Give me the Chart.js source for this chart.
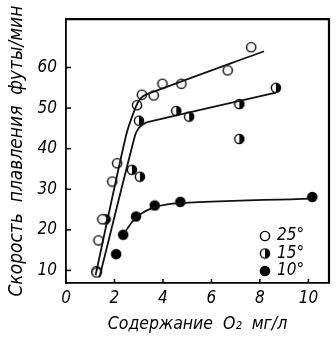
<!DOCTYPE html>
<html>
<head>
<meta charset="utf-8">
<script src="https://cdn.jsdelivr.net/npm/chart.js@4"></script>
<style>
  html, body { margin: 0; padding: 0; background: #fff; }
  #wrap { width: 336px; height: 339px; }
</style>
</head>
<body>
<div id="wrap"><canvas id="myChart" width="336" height="339"></canvas></div>
<script>
// measured points, 25 degrees (open circles)
const x25 = [1.26, 1.34, 1.50, 1.91, 2.11, 2.93, 3.13, 3.62, 3.98, 4.76, 6.67, 7.64];
const y25 = [9.5, 17.4, 22.6, 31.9, 36.4, 50.7, 53.3, 53.1, 56.0, 56.0, 59.3, 65.0];
// 15 degrees (half filled)
const x15 = [1.26, 1.63, 2.72, 3.05, 3.01, 4.55, 5.08, 7.15, 7.15, 8.66];
const y15 = [9.8, 22.6, 34.8, 33.1, 46.9, 49.3, 47.9, 51.0, 42.4, 55.0];
// 10 degrees (filled)
const x10 = [2.07, 2.36, 2.89, 3.66, 4.72, 10.16];
const y10 = [14.0, 18.8, 23.3, 26.0, 26.9, 28.1];

// fitted curves drawn through the points
const fit25x = [1.22, 2.48, 2.88, 3.08, 3.3, 8.17];
const fit25y = [8.8, 43.3, 50.3, 52.4, 53.3, 64.0];
const fit15x = [1.38, 2.85, 3.02, 3.2, 3.4, 8.66];
const fit15y = [8.3, 43.3, 45.2, 46.1, 46.6, 53.8];
const fit10x = [2.36, 2.89, 3.66, 4.72, 10.16];
const fit10y = [18.8, 23.0, 25.6, 26.6, 27.7];

const xTicks = [0, 2, 4, 6, 8, 10];
const yTicks = [10, 20, 30, 40, 50, 60];
const legendLabels = ['25°', '15°', '10°'];

const FONT = "'Liberation Sans Narrow', 'DejaVu Sans Condensed', sans-serif";

function zip(xs, ys) { return xs.map((x, i) => ({x: x, y: ys[i]})); }

// marker images: 0 = open, 1 = half filled, 2 = filled
function makeMarker(kind) {
    const c = document.createElement('canvas');
    c.width = 12; c.height = 12;
    const g = c.getContext('2d');
    const r = 4.6;
    g.beginPath(); g.arc(6, 6, r, 0, Math.PI * 2);
    g.fillStyle = kind === 2 ? '#000' : '#fff';
    g.fill();
    if (kind === 1) {
        g.beginPath(); g.arc(6, 6, r, -Math.PI / 2, Math.PI / 2); g.closePath();
        g.fillStyle = '#000'; g.fill();
    }
    g.lineWidth = 1.4; g.strokeStyle = '#000';
    g.beginPath(); g.arc(6, 6, r, 0, Math.PI * 2); g.stroke();
    return c;
}
const markers = [makeMarker(0), makeMarker(1), makeMarker(2)];

function pointSet(data, m) {
    return { type: 'scatter', data: data, pointStyle: markers[m], pointRadius: 6, showLine: false, borderColor: '#000' };
}
function lineSet(data, tension) {
    return { type: 'line', data: data, borderColor: '#111', borderWidth: 1.8, pointRadius: 0, tension: tension, fill: false };
}

// inward ticks, top/right frame and the small legend
const extras = {
    id: 'extras',
    afterDatasetsDraw(chart) {
        const ctx = chart.ctx, a = chart.chartArea;
        const sx = chart.scales.x, sy = chart.scales.y;
        ctx.save();
        ctx.strokeStyle = '#000';
        ctx.lineWidth = 1.5;
        yTicks.forEach(v => {
            const p = sy.getPixelForValue(v);
            ctx.beginPath(); ctx.moveTo(a.left, p); ctx.lineTo(a.left + 5, p); ctx.stroke();
        });
        xTicks.forEach(v => {
            const p = sx.getPixelForValue(v);
            ctx.beginPath(); ctx.moveTo(p, a.bottom); ctx.lineTo(p, a.bottom - 4); ctx.stroke();
        });
        ctx.lineWidth = 2.2;
        ctx.beginPath();
        ctx.moveTo(a.left, a.top); ctx.lineTo(a.right, a.top); ctx.lineTo(a.right, a.bottom);
        ctx.stroke();
        // legend
        ctx.font = 'italic 17px ' + FONT;
        ctx.fillStyle = '#000';
        ctx.textBaseline = 'middle';
        legendLabels.forEach((t, i) => {
            const y = 236 + i * 17.5;
            ctx.drawImage(markers[i], 259, y - 6);
            ctx.fillText(t, 277, y);
        });
        ctx.restore();
    }
};

const myChart = new Chart(document.getElementById('myChart'), {
    data: {
        datasets: [
            lineSet(zip(fit25x, fit25y), 0.25),
            lineSet(zip(fit15x, fit15y), 0.25),
            lineSet(zip(fit10x, fit10y), 0.4),
            pointSet(zip(x25, y25), 0),
            pointSet(zip(x15, y15), 1),
            pointSet(zip(x10, y10), 2)
        ]
    },
    options: {
        responsive: false,
        animation: false,
        layout: { padding: { left: 2, right: 3, top: 10, bottom: 0 } },
        plugins: { legend: { display: false }, tooltip: { enabled: false } },
        scales: {
            x: {
                type: 'linear', min: 0, max: 10.85,
                afterBuildTicks: s => { s.ticks = xTicks.map(v => ({value: v})); },
                afterFit: s => { s.height = 56; },
                grid: { display: false, drawTicks: false },
                border: { color: '#000', width: 1.8 },
                ticks: { color: '#000', padding: 5, font: { family: FONT, size: 17, style: 'italic' } },
                title: { display: true, text: 'Содержание  O₂  мг/л', color: '#000', padding: { top: 1 },
                         font: { family: FONT, size: 17.5, style: 'italic' } }
            },
            y: {
                type: 'linear', min: 6.9, max: 71.9,
                afterBuildTicks: s => { s.ticks = yTicks.map(v => ({value: v})); },
                afterFit: s => { s.width = 64; },
                grid: { display: false, drawTicks: false },
                border: { color: '#000', width: 1.8 },
                ticks: { color: '#000', padding: 9, font: { family: FONT, size: 17, style: 'italic' } },
                title: { display: true, text: 'Скорость  плавления  футы/мин', color: '#000', padding: { bottom: 2 },
                         font: { family: FONT, size: 19, style: 'italic' } }
            }
        }
    },
    plugins: [extras]
});
</script>
</body>
</html>
